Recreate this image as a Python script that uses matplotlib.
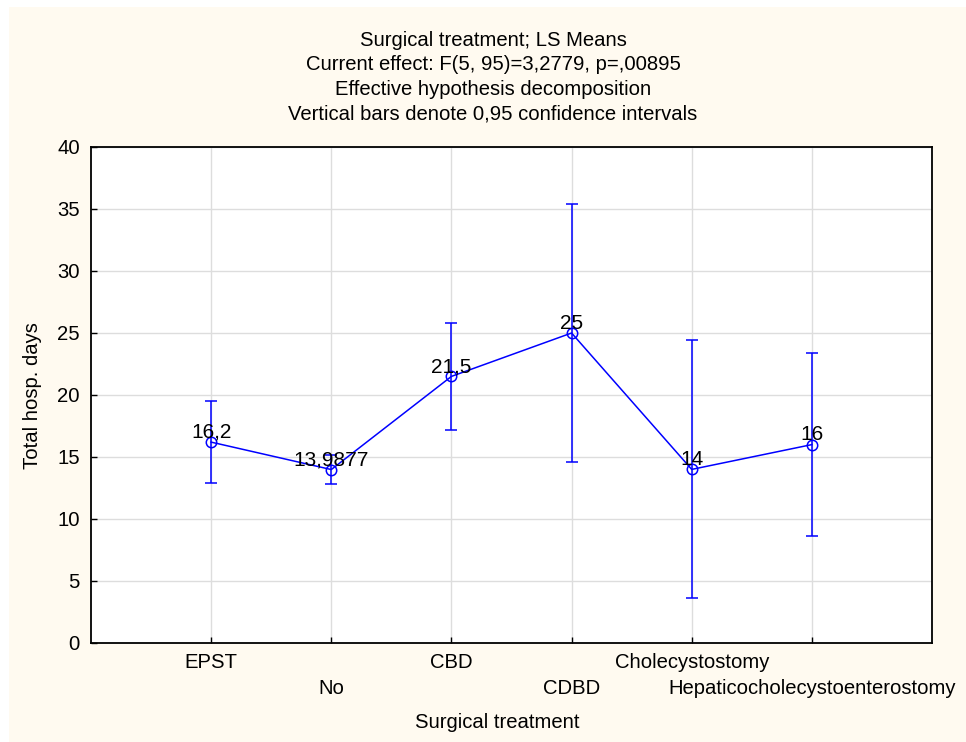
import numpy as np
import matplotlib.pyplot as plt
from matplotlib.patches import Rectangle

plt.rcParams['font.family'] = ['Liberation Sans', 'DejaVu Sans']

# 数据
categories = ['EPST', 'No', 'CBD', 'CDBD', 'Cholecystostomy',
              'Hepaticocholecystoenterostomy']
means = [16.2, 13.9877, 21.5, 25.0, 14.0, 16.0]
ci_low = [12.9, 12.85, 17.2, 14.6, 3.6, 8.65]
ci_high = [19.5, 15.13, 25.8, 35.4, 24.4, 23.4]
value_labels = ['16,2', '13,9877', '21,5', '25', '14', '16']
title_lines = ['Surgical treatment; LS Means',
               'Current effect: F(5, 95)=3,2779, p=,00895',
               'Effective hypothesis decomposition',
               'Vertical bars denote 0,95 confidence intervals']

FS = 14.6
W, H = 966, 742
fig = plt.figure(figsize=(W / 100, H / 100), dpi=100)
fig.patch.set_facecolor('white')
fig.patches.append(Rectangle((9 / W, 0), 1, 1 - 7 / H, transform=fig.transFigure,
                             facecolor='#fffaf0', edgecolor='none', zorder=-10))

ax = fig.add_axes([91 / W, 1 - 643 / H, (932 - 91) / W, (643 - 147) / H])
ax.set_facecolor('white')

x = np.arange(1, len(categories) + 1)
m = np.array(means)
yerr = [m - np.array(ci_low), np.array(ci_high) - m]
ax.errorbar(x, m, yerr=yerr, color='#0000ff', lw=1.1, elinewidth=1.1,
            capsize=4.5, capthick=1.1, marker='o', ms=7.5, mfc='none',
            mec='#0000ff', mew=1.1, zorder=3)

for xi, yi, s in zip(x, m, value_labels):
    ax.annotate(s, (xi, yi), xytext=(0, 3), textcoords='offset points',
                ha='center', va='baseline', fontsize=15, color='black', zorder=4)

ax.set_xlim(0, 7)
ax.set_ylim(0, 40)
ax.set_yticks(np.arange(0, 41, 5))
ax.set_xticks(x)
ax.set_xticklabels([])
for xi, lab in zip(x, categories):
    ypix = 663 if xi % 2 == 1 else 688
    ax.text(xi, 1 - ypix / H, lab, transform=ax.get_xaxis_transform().__class__(
        ax.transData, fig.transFigure), ha='center', va='center', fontsize=FS)

ax.grid(True, color='#dddddd', lw=1.0)
ax.set_axisbelow(True)
ax.tick_params(direction='in', length=4, width=1, labelsize=FS, colors='black',
               pad=8)
for sp in ax.spines.values():
    sp.set_linewidth(1.3)
    sp.set_color('black')

fig.text(33 / W, 1 - 396 / H, 'Total hosp. days', rotation=90, ha='center',
         va='center', fontsize=FS)
fig.text(497 / W, 1 - 722 / H, 'Surgical treatment', ha='center', va='center',
         fontsize=FS)

for i, line in enumerate(title_lines):
    fig.text(493 / W, 1 - (40 + i * 24.7) / H, line, ha='center', va='center',
             fontsize=FS)

fig.savefig('out.png', dpi=100, facecolor=fig.get_facecolor())
